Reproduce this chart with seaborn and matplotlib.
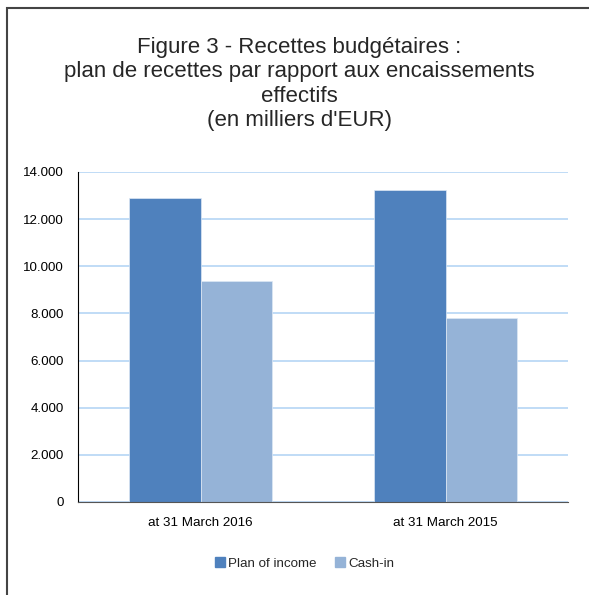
import matplotlib
matplotlib.use("Agg")
import matplotlib.pyplot as plt
import matplotlib.patches as mpatches
import seaborn as sns
import pandas as pd
from matplotlib.ticker import FuncFormatter

# data
periods = ["at 31 March 2016", "at 31 March 2015"]
plan_of_income = [12900, 13220]
cash_in = [9390, 7790]
series_names = ["Plan of income", "Cash-in"]
colors = ["#4F81BD", "#95B3D7"]

rows = []
for i, p in enumerate(periods):
    rows.append({"period": p, "series": series_names[0], "value": plan_of_income[i]})
    rows.append({"period": p, "series": series_names[1], "value": cash_in[i]})
df = pd.DataFrame(rows)

sns.set_theme(style="white")
plt.rcParams['font.family'] = ['Liberation Sans', 'DejaVu Sans']

fig = plt.figure(figsize=(5.89, 5.95), dpi=100)
ax = fig.add_axes([78 / 589, 93 / 595, 490 / 589, 330 / 595])

sns.barplot(data=df, x="period", y="value", hue="series", palette=colors,
            saturation=1, width=0.58, ax=ax, legend=False,
            edgecolor="#DDE8F5", linewidth=0.5)

ax.set_ylim(0, 14000)
ax.set_xlim(-0.5, 1.5)
ax.set_yticks(range(0, 14001, 2000))
ax.yaxis.set_major_formatter(FuncFormatter(lambda v, _: f"{int(v):,}".replace(",", ".")))
ax.grid(axis="y", color="#B5D5F5", linewidth=1.2)
ax.set_axisbelow(True)
ax.set_xlabel("")
ax.set_ylabel("")
ax.tick_params(axis="both", labelsize=9.6, colors="black", length=0)
ax.tick_params(axis="y", pad=10)
ax.tick_params(axis="x", pad=11)
for s in ["top", "right"]:
    ax.spines[s].set_visible(False)
ax.spines["left"].set_color("black")
ax.spines["left"].set_linewidth(0.8)
ax.spines["bottom"].set_color("#555555")
ax.spines["bottom"].set_linewidth(0.8)

fig.text(0.508, 0.938, "Figure 3 - Recettes budgétaires :\nplan de recettes par rapport aux encaissements\neffectifs\n(en milliers d'EUR)",
         ha="center", va="top", fontsize=16, linespacing=1.21)

handles = [mpatches.Patch(color=c, label=n) for c, n in zip(colors, series_names)]
fig.legend(handles=handles, loc="center", bbox_to_anchor=(0.517, 0.053), ncol=2,
           frameon=False, fontsize=9.6, handlelength=0.75, handleheight=0.75,
           handletextpad=0.25, columnspacing=1.4)

# outer chart border (top and left edges visible in the reference)
fig.add_artist(mpatches.Rectangle((7 / 589, -0.1), 1.2, (595 - 8) / 595 + 0.1,
                                  transform=fig.transFigure, fill=False,
                                  edgecolor="#444444", linewidth=1.5))

fig.savefig("out.png", dpi=100)
